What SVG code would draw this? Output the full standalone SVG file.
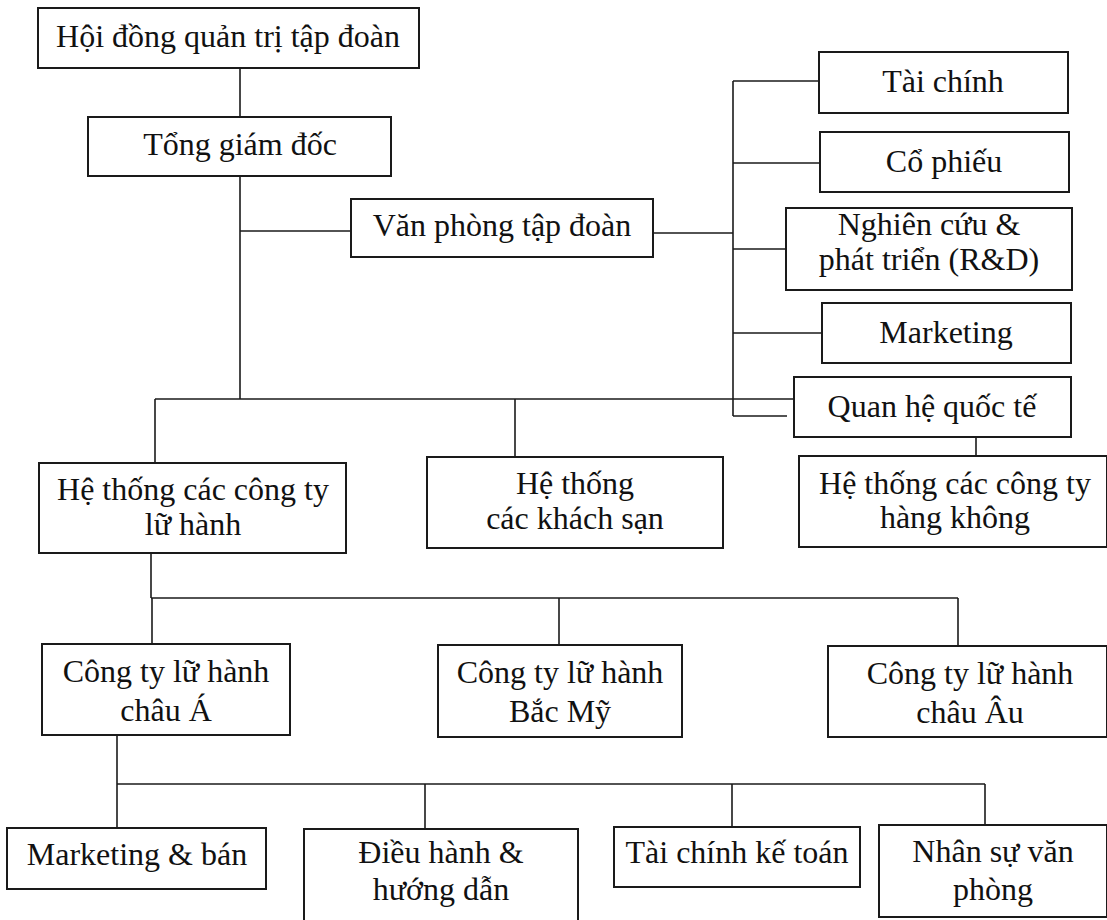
<svg xmlns="http://www.w3.org/2000/svg" width="1107" height="920" viewBox="0 0 1107 920">
<style>
.box{fill:#ffffff;stroke:#1a1a1a;stroke-width:2}
.c{fill:none;stroke:#1a1a1a;stroke-width:1.6}
text{font-family:"Liberation Serif","Times New Roman",serif;font-size:32px;fill:#111;text-anchor:middle}
</style>
<rect width="1107" height="920" fill="#ffffff"/>
<g id="connectors">
<path class="c" d="M240 68V117"/>
<path class="c" d="M240 176V399"/>
<path class="c" d="M240 231H351"/>
<path class="c" d="M653 233H733"/>
<path class="c" d="M733 81V416"/>
<path class="c" d="M733 81H819"/>
<path class="c" d="M733 163H820"/>
<path class="c" d="M733 249H786"/>
<path class="c" d="M733 333H822"/>
<path class="c" d="M733 416H787"/>
<path class="c" d="M155 399H794"/>
<path class="c" d="M155 399V463"/>
<path class="c" d="M515 399V457"/>
<path class="c" d="M976 437V456"/>
<path class="c" d="M151 553V598"/>
<path class="c" d="M151 598H958"/>
<path class="c" d="M152 598V644"/>
<path class="c" d="M559 598V645"/>
<path class="c" d="M958 598V646"/>
<path class="c" d="M117 735V784"/>
<path class="c" d="M117 784H985"/>
<path class="c" d="M117 784V828"/>
<path class="c" d="M425 784V829"/>
<path class="c" d="M732 784V827"/>
<path class="c" d="M985 784V825"/>
</g>
<g id="hoi-dong"><rect class="box" x="38" y="8" width="381" height="60"/><text x="228" y="47">Hội đồng quản trị tập đoàn</text></g>
<g id="tong-giam-doc"><rect class="box" x="88" y="117" width="303" height="59"/><text x="240" y="155">Tổng giám đốc</text></g>
<g id="van-phong"><rect class="box" x="351" y="199" width="302" height="58"/><text x="502" y="236">Văn phòng tập đoàn</text></g>
<g id="tai-chinh"><rect class="box" x="819" y="52" width="249" height="61"/><text x="943" y="92">Tài chính</text></g>
<g id="co-phieu"><rect class="box" x="820" y="132" width="249" height="60"/><text x="944" y="172">Cổ phiếu</text></g>
<g id="nghien-cuu"><rect class="box" x="786" y="208" width="286" height="82"/><text x="929" y="235">Nghiên cứu &amp;</text><text x="929" y="270">phát triển (R&amp;D)</text></g>
<g id="marketing"><rect class="box" x="822" y="303" width="249" height="60"/><text x="946" y="343">Marketing</text></g>
<g id="quan-he"><rect class="box" x="794" y="377" width="277" height="60"/><text x="932" y="417">Quan hệ quốc tế</text></g>
<g id="lu-hanh"><rect class="box" x="39" y="463" width="307" height="90"/><text x="193" y="500">Hệ thống các công ty</text><text x="193" y="535">lữ hành</text></g>
<g id="khach-san"><rect class="box" x="427" y="457" width="296" height="91"/><text x="575" y="494">Hệ thống</text><text x="575" y="529">các khách sạn</text></g>
<g id="hang-khong"><rect class="box" x="799" y="456" width="308" height="91"/><text x="955" y="494">Hệ thống các công ty</text><text x="955" y="528">hàng không</text></g>
<g id="chau-a"><rect class="box" x="42" y="644" width="248" height="91"/><text x="166" y="682">Công ty lữ hành</text><text x="166" y="721">châu Á</text></g>
<g id="bac-my"><rect class="box" x="438" y="645" width="244" height="92"/><text x="560" y="683">Công ty lữ hành</text><text x="560" y="722">Bắc Mỹ</text></g>
<g id="chau-au"><rect class="box" x="828" y="646" width="279" height="91"/><text x="970" y="684">Công ty lữ hành</text><text x="970" y="723">châu Âu</text></g>
<g id="marketing-ban"><rect class="box" x="7" y="828" width="259" height="61"/><text x="137" y="865">Marketing &amp; bán</text></g>
<g id="dieu-hanh"><rect class="box" x="304" y="829" width="274" height="96"/><text x="441" y="863">Điều hành &amp;</text><text x="441" y="900">hướng dẫn</text></g>
<g id="tai-chinh-ke-toan"><rect class="box" x="614" y="827" width="246" height="60"/><text x="737" y="863">Tài chính kế toán</text></g>
<g id="nhan-su"><rect class="box" x="879" y="825" width="228" height="92"/><text x="993" y="862">Nhân sự văn</text><text x="993" y="900">phòng</text></g>
</svg>
